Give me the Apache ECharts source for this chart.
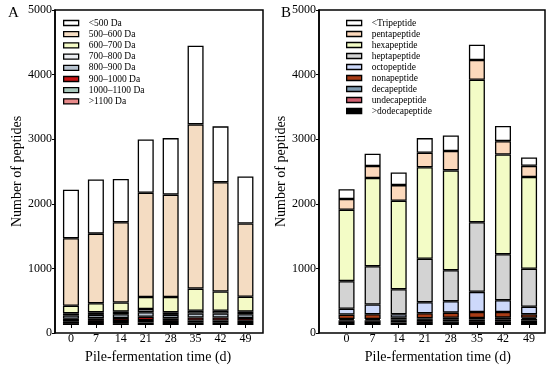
<!DOCTYPE html>
<html><head><meta charset="utf-8">
<script src="https://cdn.jsdelivr.net/npm/echarts@6/dist/echarts.min.js"></script>
<style>html,body{margin:0;padding:0;background:#fff}#c{width:550px;height:369px}</style>
</head><body><div id="c"></div>
<script>
// ---- data ----
var days = ['0', '7', '14', '21', '28', '35', '42', '49'];
var yTicks = [0, 1000, 2000, 3000, 4000, 5000];

// Panel A: molecular weight classes (legend order, top of stack first)
var namesA = ['<500 Da', '500–600 Da', '600–700 Da', '700–800 Da', '800–900 Da', '900–1000 Da', '1000–1100 Da', '>1100 Da'];
var lt500    = [769, 861, 687, 846, 897, 1248, 888, 748];
var d500600  = [1073, 1105, 1274, 1656, 1626, 2606, 1734, 1161];
var d600700  = [119, 145, 144, 192, 244, 351, 304, 237];
var d700800  = [36, 40, 42, 50, 40, 45, 45, 42];
var d800900  = [50, 55, 60, 70, 55, 62, 62, 58];
var d9001000 = [40, 40, 45, 52, 40, 48, 48, 45];
var d10001100 = [30, 33, 35, 40, 33, 37, 37, 35];
var gt1100   = [30, 32, 30, 40, 32, 35, 35, 32];

// Panel B: peptide length classes (legend order, top of stack first)
var namesB = ['<Tripeptide', 'pentapeptide', 'hexapeptide', 'heptapeptide', 'octopeptide', 'nonapeptide', 'decapeptide', 'undecapeptide', '>dodecapeptide'];
var ltTri  = [155, 195, 201, 232, 245, 242, 242, 134];
var penta  = [170, 191, 248, 232, 309, 315, 212, 176];
var hexa   = [1134, 1401, 1406, 1452, 1584, 2262, 1582, 1458];
var hepta  = [438, 608, 397, 689, 493, 1104, 732, 603];
var octo   = [93, 155, 50, 176, 181, 319, 185, 119];
var nona   = [70, 75, 30, 80, 80, 95, 90, 55];
var deca   = [20, 20, 25, 25, 25, 25, 25, 20];
var undeca = [25, 25, 25, 31, 36, 37, 42, 25];
var dodeca = [50, 50, 40, 50, 55, 50, 50, 70];

// ---- styles ----
var colorsA = ['#ffffff', '#f4dcc2', '#f4fac6', '#eceef2', '#b8c4d0', '#c81414', '#a8c8bc', '#e88a8a'];
var colorsB = ['#ffffff', '#fcd9bc', '#f3fcc6', '#d3d3d3', '#cdd9fb', '#a83c16', '#7f9bb0', '#d06070', '#000000'];
var valsA = [lt500, d500600, d600700, d700800, d800900, d9001000, d10001100, gt1100];
var valsB = [ltTri, penta, hexa, hepta, octo, nona, deca, undeca, dodeca];

var FONT = 'Liberation Serif';
var TOP = 10, H = 323;

function mkSeries(names, vals, colors, idx, stack) {
  var out = [];
  for (var i = names.length - 1; i >= 0; i--) {
    out.push({
      name: names[i], type: 'bar', stack: stack,
      xAxisIndex: idx, yAxisIndex: idx,
      barWidth: 16,
      itemStyle: { color: colors[i], borderColor: '#000', borderWidth: 1.3 },
      emphasis: { disabled: true },
      data: vals[i]
    });
  }
  return out;
}

// frame axes (box + y labels)
function frameX(idx) {
  return { type: 'value', gridIndex: idx, min: 0, max: 1, show: false };
}
function frameY(idx) {
  return {
    type: 'value', gridIndex: idx, min: yTicks[0], max: yTicks[yTicks.length - 1], interval: 1000,
    name: 'Number of peptides', nameLocation: 'middle', nameGap: 30, nameRotate: 90,
    nameTextStyle: { fontFamily: FONT, fontSize: 14, color: '#000' },
    axisLine: { show: true, onZero: false, lineStyle: { color: '#000', width: 1.5 } },
    axisTick: { show: true, length: 3, lineStyle: { color: '#000', width: 1 } },
    axisLabel: { fontFamily: FONT, fontSize: 12, color: '#000', margin: 3,
      formatter: function (v) { return String(v); } },
    splitLine: { show: false }
  };
}
// bar axes
function barX(idx) {
  return {
    type: 'category', gridIndex: idx, data: days,
    name: 'Pile-fermentation time (d)', nameLocation: 'middle', nameGap: 25,
    nameTextStyle: { fontFamily: FONT, fontSize: 14, color: '#000' },
    axisLine: { show: false },
    axisTick: { show: true, alignWithLabel: true, length: 3, lineStyle: { color: '#000', width: 1 } },
    axisLabel: { fontFamily: FONT, fontSize: 12, color: '#000', margin: 8 },
    splitLine: { show: false }
  };
}
function barY(idx) {
  return { type: 'value', gridIndex: idx, min: yTicks[0], max: yTicks[yTicks.length - 1], show: false };
}
function legend(names, left, top, gap) {
  return {
    orient: 'vertical', left: left, top: top, padding: 0, itemGap: gap,
    itemWidth: 15, itemHeight: 5, icon: 'rect',
    selectedMode: false,
    data: names,
    textStyle: { fontFamily: FONT, fontSize: 9.5, color: '#000', padding: [0, 0, 0, 5], lineHeight: 10 },
    itemStyle: { borderColor: '#000', borderWidth: 1.3 }
  };
}

var chart = echarts.init(document.getElementById('c'), null, { renderer: 'canvas' });
chart.setOption({
  animation: false,
  backgroundColor: '#fff',
  grid: [
    { left: 55, top: TOP, width: 208, height: H, show: true, borderColor: '#000', borderWidth: 1.5, backgroundColor: 'transparent' },
    { left: 58.5, top: TOP, width: 199.4, height: H },
    { left: 319, top: TOP, width: 226, height: H, show: true, borderColor: '#000', borderWidth: 1.5, backgroundColor: 'transparent' },
    { left: 333.5, top: TOP, width: 208.6, height: H }
  ],
  xAxis: [frameX(0), barX(1), frameX(2), barX(3)],
  yAxis: [frameY(0), barY(1), frameY(2), barY(3)],
  legend: [legend(namesA, 63, 18, 1.2), legend(namesB, 346, 18, 1)],
  graphic: [
    { type: 'text', left: 8, top: 6, style: { text: 'A', font: '15px "Liberation Serif"', fill: '#000' } },
    { type: 'text', left: 281, top: 6, style: { text: 'B', font: '15px "Liberation Serif"', fill: '#000' } }
  ],
  series: mkSeries(namesA, valsA, colorsA, 1, 'a').concat(mkSeries(namesB, valsB, colorsB, 3, 'b'))
});
</script></body></html>
